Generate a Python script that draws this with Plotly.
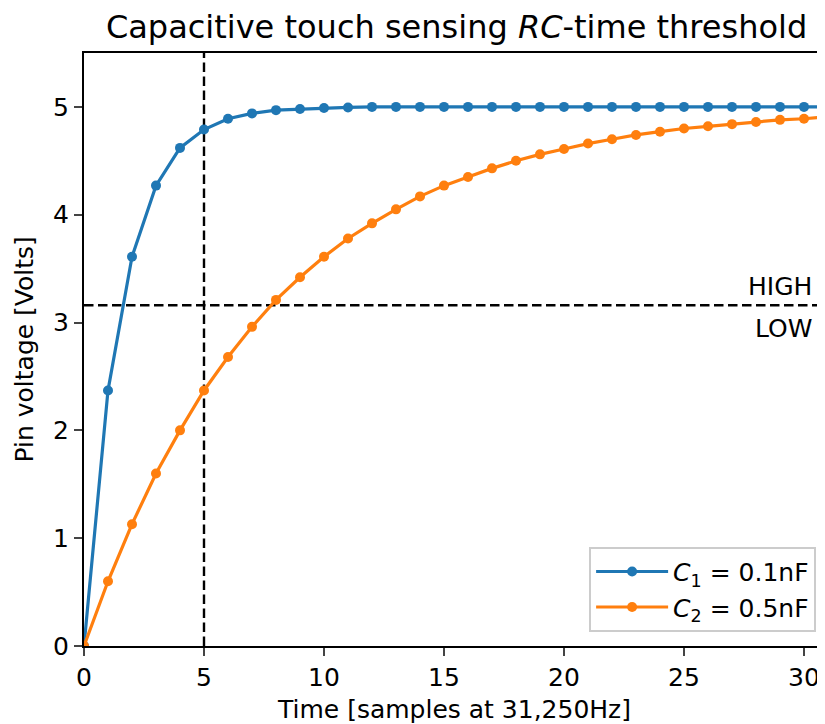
import plotly.graph_objects as go

t = list(range(32))
v_c1 = [0, 2.37, 3.61, 4.27, 4.62, 4.79, 4.89, 4.94, 4.97, 4.98, 4.99, 4.995, 5.0, 5.0, 5.0, 5.0,
        5.0, 5.0, 5.0, 5.0, 5.0, 5.0, 5.0, 5.0, 5.0, 5.0, 5.0, 5.0, 5.0, 5.0, 5.0, 5.0]
v_c2 = [0, 0.60, 1.13, 1.60, 2.00, 2.37, 2.68, 2.96, 3.21, 3.42, 3.61, 3.78, 3.92, 4.05, 4.17, 4.27,
        4.35, 4.43, 4.50, 4.56, 4.61, 4.66, 4.70, 4.74, 4.77, 4.80, 4.82, 4.84, 4.86, 4.88, 4.89, 4.91]
threshold = 3.16
t_mark = 5
x_ticks = [0, 5, 10, 15, 20, 25, 30]
y_ticks = [0, 1, 2, 3, 4, 5]

FONT = "DejaVu Sans"
FS = 25

fig = go.Figure()
fig.add_trace(go.Scatter(x=t, y=v_c1, mode="lines+markers",
                         name="<i>C</i><sub>1</sub> = 0.1nF",
                         line=dict(color="#1f77b4", width=3.2),
                         marker=dict(size=10, color="#1f77b4")))
fig.add_trace(go.Scatter(x=t, y=v_c2, mode="lines+markers",
                         name="<i>C</i><sub>2</sub> = 0.5nF",
                         line=dict(color="#ff7f0e", width=3.2),
                         marker=dict(size=10, color="#ff7f0e")))

fig.add_hline(y=threshold, line=dict(color="black", width=2.4, dash="9.5px,4.5px"), layer="below")
fig.add_vline(x=t_mark, line=dict(color="black", width=2.4, dash="9.5px,4.5px"), layer="below")

fig.add_annotation(x=30.4, y=threshold, text="HIGH", showarrow=False, xanchor="right",
                   yanchor="middle", yshift=19, font=dict(family=FONT, size=FS, color="black"))
fig.add_annotation(x=30.4, y=threshold, text="LOW", showarrow=False, xanchor="right",
                   yanchor="middle", yshift=-23, font=dict(family=FONT, size=FS, color="black"))
fig.add_annotation(x=0, y=0.5, xref="paper", yref="paper", text="Pin voltage [Volts]",
                   textangle=-90, showarrow=False, xanchor="center", yanchor="middle",
                   xshift=-60, font=dict(family=FONT, size=FS, color="black"))

fig.update_layout(
    width=817, height=716,
    margin=dict(l=76, r=0, t=45, b=78, autoexpand=False),
    paper_bgcolor="white", plot_bgcolor="white",
    font=dict(family=FONT, size=FS, color="black"),
    title=dict(text="Capacitive touch sensing <i>RC</i>-time threshold",
               x=0.549, xanchor="center", y=0.9735, yanchor="middle",
               font=dict(family=FONT, size=32, color="black")),
    showlegend=True,
    legend=dict(x=0.988, y=0.024, xanchor="right", yanchor="bottom",
                bgcolor="rgba(255,255,255,0.8)", bordercolor="#cccccc", borderwidth=2,
                font=dict(family=FONT, size=FS), itemwidth=72, tracegroupgap=4),
)
fig.update_xaxes(range=[0, 30.875], tickvals=x_ticks, ticks="outside", ticklen=8, tickwidth=2,
                 showline=True, linecolor="black", linewidth=2, mirror=True, showgrid=False,
                 zeroline=False, tickfont=dict(size=FS), automargin=False,
                 title=dict(text="Time [samples at 31,250Hz]", font=dict(size=FS), standoff=9))
fig.update_yaxes(range=[0, 5.5], tickvals=y_ticks, ticks="outside", ticklen=8, tickwidth=2,
                 showline=True, linecolor="black", linewidth=2, mirror=False, showgrid=False,
                 zeroline=False, tickfont=dict(size=FS), automargin=False)

fig.write_html("out.html")
